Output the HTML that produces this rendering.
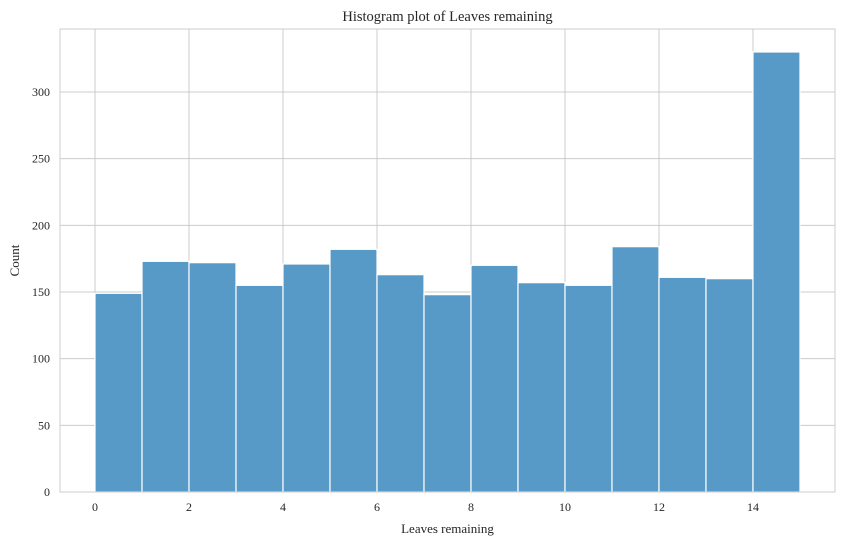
<!DOCTYPE html>
<html><head><meta charset="utf-8"><style>
body{margin:0;background:#fff;}
svg{display:block;font-family:"Liberation Serif",serif;}
</style></head><body>
<svg id="chart" width="845" height="545"></svg>
<script>
const binStarts=[0,1,2,3,4,5,6,7,8,9,10,11,12,13,14];
const counts=[149,173,172,155,171,182,163,148,170,157,155,184,161,160,330];
const xTicks=[0,2,4,6,8,10,12,14];
const yTicks=[0,50,100,150,200,250,300];
const L=60,R=835,T=29,B=492;
const xMin=-0.745,xMax=15.745,yMax=347.25;
const xs=v=>L+(v-xMin)/(xMax-xMin)*(R-L);
const ys=v=>B-v/yMax*(B-T);
const svg=document.getElementById('chart');
const NS='http://www.w3.org/2000/svg';
function mk(tag,attrs,parent){const e=document.createElementNS(NS,tag);for(const k in attrs)e.setAttribute(k,attrs[k]);(parent||svg).appendChild(e);return e;}
const grid=mk('g',{});


xTicks.forEach(t=>{const l=mk('line',{x1:xs(t),x2:xs(t),y1:T,y2:B,stroke:'#cccccc','stroke-width':1},grid);

});
yTicks.forEach(t=>{const l=mk('line',{x1:L,x2:R,y1:ys(t),y2:ys(t),stroke:'#cccccc','stroke-width':1},grid);

});
const bars=mk('g',{});


binStarts.forEach((b,i)=>{const x0=xs(b),x1=xs(b+1);
const r=mk('rect',{x:x0,y:ys(counts[i]),width:x1-x0,height:B-ys(counts[i]),fill:'#5799c7',stroke:'#ffffff','stroke-width':1.2},bars);

});
const frame=mk('rect',{x:L,y:T,width:R-L,height:B-T,fill:'none',stroke:'#cccccc','stroke-width':1});


xTicks.forEach(t=>{const e=mk('text',{x:xs(t),y:B+19,'text-anchor':'middle','font-size':12,fill:'#262626'});e.textContent=t;

});
yTicks.forEach(t=>{const e=mk('text',{x:L-10,y:ys(t)+4,'text-anchor':'end','font-size':12,fill:'#262626'});e.textContent=t;

});
const xt=mk('text',{x:(L+R)/2,y:533,'text-anchor':'middle','font-size':13,fill:'#262626'});xt.textContent='Leaves remaining';


const yt=mk('text',{x:19,y:(T+B)/2,'text-anchor':'middle','font-size':13,fill:'#262626',transform:'rotate(-90 19 '+(T+B)/2+')'});yt.textContent='Count';


const ti=mk('text',{x:(L+R)/2,y:21,'text-anchor':'middle','font-size':14.5,fill:'#262626'});ti.textContent='Histogram plot of Leaves remaining';


</script>
</body></html>
